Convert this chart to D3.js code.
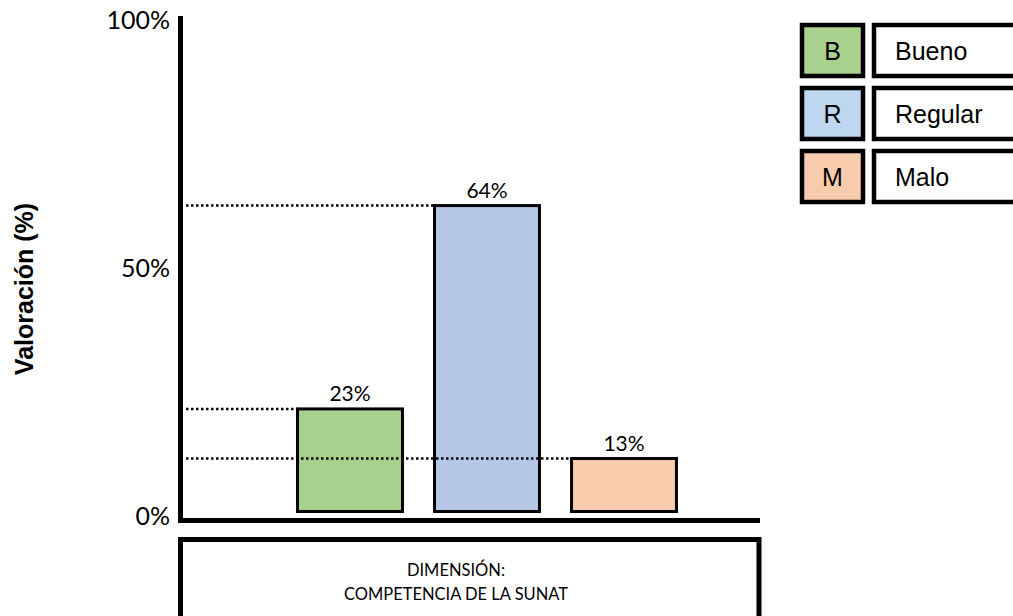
<!DOCTYPE html>
<html>
<head>
<meta charset="utf-8">
<script src="https://cdn.jsdelivr.net/npm/d3@7"></script>
<style>
  html, body { margin: 0; padding: 0; background: #fff; }
  svg { display: block; }
</style>
</head>
<body>
<svg id="chart" width="1013" height="616"></svg>
<script>
// Survey result: dimension "Competencia de la SUNAT"
const categories = ["Bueno", "Regular", "Malo"];
const codes = ["B", "R", "M"];
const values = [23, 64, 13];
const tickValues = [0, 50, 100];
const barColors = ["#A9D18E", "#B4C7E7", "#F8CBAD"];
const legendColors = ["#A9D18E", "#BDD7EE", "#F8CBAD"];
const axisTitle = "Valoración (%)";
const dimensionLines = ["DIMENSIÓN:", "COMPETENCIA DE LA SUNAT"];

const svg = d3.select("#chart");

// scales
const y = d3.scaleLinear().domain([0, 100]).range([523, 27]);
const x = d3.scaleBand()
  .domain(categories)
  .range([281.5, 692.5])
  .paddingInner(0.234)
  .paddingOuter(0.117);

const barBase = 511.5;
const axisX = 180.5, axisY = 520.5, axisRight = 760;

// y tick labels
const yAxis = d3.axisLeft(y)
  .tickValues(tickValues)
  .tickSize(0)
  .tickPadding(0)
  .tickFormat(d => d + "%");
const gy = svg.append("g")
  .attr("transform", `translate(170,-7)`)
  .call(yAxis);
gy.select(".domain").remove();
gy.selectAll("text")
  .attr("font-family", "Lato, sans-serif")
  .attr("font-size", 25)
  .attr("fill", "#000");

// axis title
svg.append("text")
  .attr("transform", "translate(33,289) rotate(-90)")
  .attr("text-anchor", "middle")
  .attr("font-family", "'Liberation Sans', Arial, sans-serif")
  .attr("font-weight", "bold")
  .attr("font-size", 25)
  .text(axisTitle);

// bars
svg.append("g").selectAll("rect")
  .data(categories)
  .join("rect")
  .attr("x", d => x(d))
  .attr("y", (d, i) => y(values[i]))
  .attr("width", x.bandwidth())
  .attr("height", (d, i) => barBase - y(values[i]))
  .attr("fill", (d, i) => barColors[i])
  .attr("stroke", "#000")
  .attr("stroke-width", 3);

// dotted guide lines from the axis to each bar
svg.append("g").selectAll("line")
  .data(categories)
  .join("line")
  .attr("x1", 186)
  .attr("x2", d => x(d))
  .attr("y1", (d, i) => y(values[i]))
  .attr("y2", (d, i) => y(values[i]))
  .attr("stroke", "#000")
  .attr("stroke-width", 2.5)
  .attr("stroke-dasharray", "2.5,2.5");

// value labels
svg.append("g").selectAll("text")
  .data(categories)
  .join("text")
  .attr("x", d => x(d) + x.bandwidth() / 2)
  .attr("y", (d, i) => y(values[i]) - 8)
  .attr("text-anchor", "middle")
  .attr("font-family", "Lato, sans-serif")
  .attr("font-size", 21)
  .text((d, i) => values[i] + "%");

// axis lines
svg.append("line")
  .attr("x1", axisX).attr("x2", axisX)
  .attr("y1", 16).attr("y2", axisY + 2.5)
  .attr("stroke", "#000").attr("stroke-width", 5);
svg.append("line")
  .attr("x1", axisX - 2.5).attr("x2", axisRight)
  .attr("y1", axisY).attr("y2", axisY)
  .attr("stroke", "#000").attr("stroke-width", 5);

// dimension box below the axis
svg.append("rect")
  .attr("x", axisX).attr("y", 539.5)
  .attr("width", axisRight - 1 - axisX).attr("height", 120)
  .attr("fill", "#fff")
  .attr("stroke", "#000").attr("stroke-width", 5);
svg.append("g").selectAll("text")
  .data(dimensionLines)
  .join("text")
  .attr("x", 456)
  .attr("y", (d, i) => 576 + i * 24)
  .attr("text-anchor", "middle")
  .attr("font-family", "Lato, sans-serif")
  .attr("font-size", 16.5)
  .text(d => d);

// legend
const legend = svg.append("g").selectAll("g")
  .data(categories)
  .join("g")
  .attr("transform", (d, i) => `translate(0,${25 + i * 63})`);
legend.append("rect")
  .attr("x", 802).attr("y", 0)
  .attr("width", 61).attr("height", 51)
  .attr("fill", (d, i) => legendColors[i])
  .attr("stroke", "#000").attr("stroke-width", 4.5);
legend.append("rect")
  .attr("x", 874).attr("y", 0)
  .attr("width", 200).attr("height", 51)
  .attr("fill", "#fff")
  .attr("stroke", "#000").attr("stroke-width", 4.5);
legend.append("text")
  .attr("x", 832.5).attr("y", 35)
  .attr("text-anchor", "middle")
  .attr("font-family", "'Liberation Sans', Arial, sans-serif")
  .attr("font-size", 25)
  .text((d, i) => codes[i]);
legend.append("text")
  .attr("x", 895).attr("y", 35)
  .attr("font-family", "'Liberation Sans', Arial, sans-serif")
  .attr("font-size", 25)
  .text(d => d);
</script>
</body>
</html>
